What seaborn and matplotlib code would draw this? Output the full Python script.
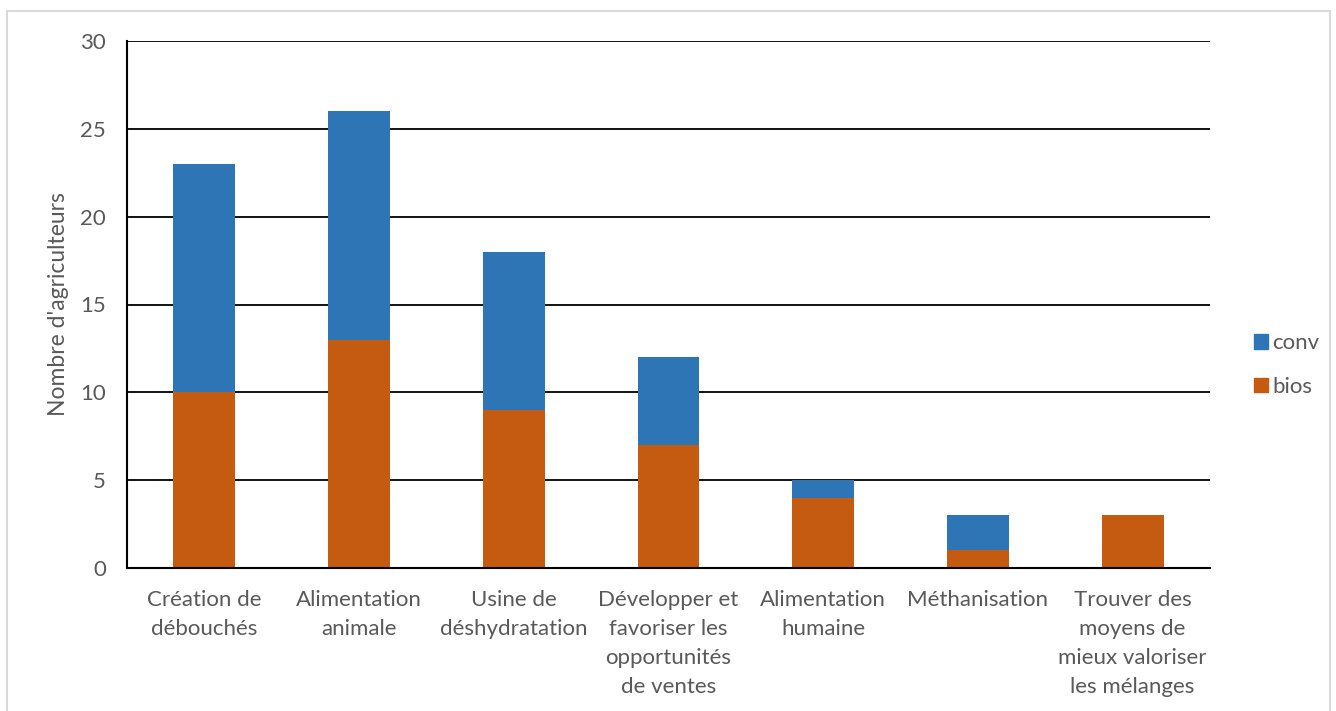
import matplotlib
matplotlib.use("Agg")
import matplotlib.pyplot as plt
import matplotlib.patches as mpatches
import seaborn as sns
import pandas as pd

categories = [
    "Création de\ndébouchés",
    "Alimentation\nanimale",
    "Usine de\ndéshydratation",
    "Développer et\nfavoriser les\nopportunités\nde ventes",
    "Alimentation\nhumaine",
    "Méthanisation",
    "Trouver des\nmoyens de\nmieux valoriser\nles mélanges",
]
bios = [10, 13, 9, 7, 4, 1, 3]
conv = [13, 13, 9, 5, 1, 2, 0]

COL_CONV = "#2E75B6"
COL_BIOS = "#C55A11"
TXT = "#595959"

sns.set_theme(style="white")
plt.rcParams["font.family"] = ["Lato", "DejaVu Sans"]

df = pd.DataFrame({"cat": categories, "bios": bios, "conv": conv})
df["total"] = df["bios"] + df["conv"]

fig = plt.figure(figsize=(13.36, 7.11), dpi=100)
ax = fig.add_axes([127 / 1336, 1 - 568 / 711, (1210 - 127) / 1336, (568 - 41) / 711])

# stacked bars: full stack in blue, bios segment drawn over it
sns.barplot(data=df, x="cat", y="total", color=COL_CONV, width=0.4,
            saturation=1, linewidth=0, ax=ax, zorder=3)
sns.barplot(data=df, x="cat", y="bios", color=COL_BIOS, width=0.4,
            saturation=1, linewidth=0, ax=ax, zorder=3)

ax.set_ylim(0, 30)
ax.set_xlim(-0.5, len(categories) - 0.5)
ax.set_yticks(range(0, 31, 5))
ax.yaxis.grid(True, color="black", linewidth=1.3, zorder=0)
ax.set_axisbelow(True)
for s in ["top", "right"]:
    ax.spines[s].set_visible(False)
for s in ["left", "bottom"]:
    ax.spines[s].set_color("black")
    ax.spines[s].set_linewidth(1.5)
    ax.spines[s].set_zorder(4)

ax.tick_params(axis="y", length=0, labelsize=16, colors=TXT, pad=15)
ax.tick_params(axis="x", length=0, labelsize=16, colors=TXT, pad=16)
for lbl in ax.get_xticklabels():
    lbl.set_linespacing(1.55)
ax.set_xlabel("")
ax.set_ylabel("Nombre d'agriculteurs", fontsize=16.5, color=TXT, labelpad=8)

handles = [mpatches.Patch(color=COL_CONV, label="conv"),
           mpatches.Patch(color=COL_BIOS, label="bios")]
leg = ax.legend(handles=handles, loc="center left", bbox_to_anchor=(1.03, 0.385),
                frameon=False, fontsize=16, handlelength=0.65, handleheight=0.65,
                handletextpad=0.2, labelspacing=1.05, borderpad=0)
for t in leg.get_texts():
    t.set_color(TXT)

# thin light frame around the chart area
frame = mpatches.Rectangle((7 / 1336, -0.05), (1330 - 7) / 1336, 1.05 - 11 / 711,
                           transform=fig.transFigure, fill=False,
                           edgecolor="#D9D9D9", linewidth=1.5)
fig.patches.append(frame)

fig.savefig("out.png", dpi=100)
